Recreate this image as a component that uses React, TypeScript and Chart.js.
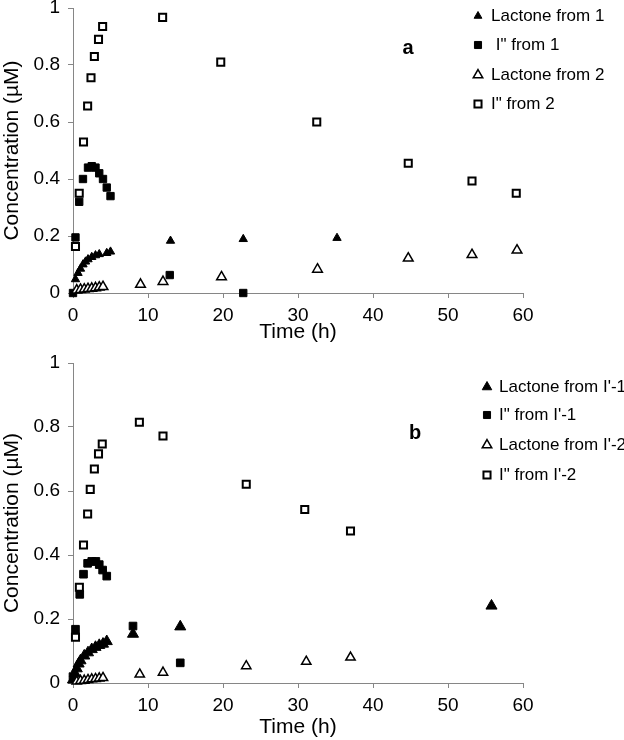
import React, { useEffect, useRef } from 'react';
import { Chart, registerables } from 'chart.js';
Chart.register(...registerables);

// ---------- Panel a data ----------
const aLactone1T = [0.33, 0.67, 1, 1.33, 1.67, 2, 2.5, 3, 3.5, 4.5, 5, 13, 22.7, 35.2];
const aLactone1C = [0.048, 0.07, 0.085, 0.1, 0.11, 0.118, 0.126, 0.132, 0.136, 0.14, 0.145, 0.183, 0.189, 0.193];
const aI1T = [0, 0.33, 0.83, 1.33, 2, 2.5, 3, 3.5, 4, 4.5, 5, 12.9, 22.7];
const aI1C = [0, 0.195, 0.32, 0.4, 0.44, 0.445, 0.44, 0.42, 0.4, 0.37, 0.34, 0.063, 0];
const aLactone2T = [0.5, 1, 1.5, 2, 2.5, 3, 3.5, 4, 9, 12, 19.8, 32.6, 44.7, 53.2, 59.2];
const aLactone2C = [0.01, 0.012, 0.013, 0.015, 0.016, 0.018, 0.02, 0.022, 0.03, 0.04, 0.056, 0.083, 0.122, 0.134, 0.15];
const aI2T = [0.33, 0.83, 1.4, 1.95, 2.4, 2.85, 3.4, 3.95, 11.95, 19.7, 32.5, 44.7, 53.2, 59.1];
const aI2C = [0.163, 0.35, 0.53, 0.656, 0.755, 0.83, 0.89, 0.935, 0.967, 0.81, 0.6, 0.455, 0.393, 0.35];
const aLabels = ['Lactone from 1', ' I" from 1', 'Lactone from 2', 'I" from 2'];

// ---------- Panel b data ----------
const bLactone1T = [0, 0.25, 0.5, 0.75, 1, 1.5, 2, 2.5, 3, 3.5, 4, 4.5, 8, 14.3, 55.8];
const bLactone1C = [0.01, 0.03, 0.045, 0.06, 0.07, 0.085, 0.095, 0.105, 0.112, 0.118, 0.122, 0.13, 0.153, 0.176, 0.241];
const bI1T = [0, 0.33, 0.9, 1.4, 1.95, 2.5, 3.05, 3.5, 3.95, 4.5, 8, 14.3];
const bI1C = [0.02, 0.168, 0.277, 0.34, 0.374, 0.38, 0.38, 0.37, 0.353, 0.334, 0.178, 0.063];
const bLactone2T = [0.5, 1, 1.5, 2, 2.5, 3, 3.5, 4, 8.9, 12, 23.1, 31.1, 37];
const bLactone2C = [0.005, 0.007, 0.008, 0.01, 0.012, 0.013, 0.015, 0.016, 0.027, 0.033, 0.053, 0.067, 0.08];
const bI2T = [0.33, 0.85, 1.4, 1.95, 2.3, 2.85, 3.4, 3.9, 8.85, 12, 23.1, 30.9, 37];
const bI2C = [0.143, 0.299, 0.431, 0.528, 0.605, 0.669, 0.716, 0.747, 0.815, 0.772, 0.621, 0.542, 0.475];
const bLabels = ["Lactone from I'-1", "I\" from I'-1", "Lactone from I'-2", "I\" from I'-2"];

const xTitle = 'Time (h)';
const yTitle = 'Concentration (\u00b5M)';

const FONT = '"Liberation Sans", Arial, sans-serif';
const AXIS = '#868686';
const W = 624;

type Marker = { kind: 'triangle' | 'rect'; filled: boolean; r: number; bw: number };

function pts(t: number[], c: number[]) {
  return t.map((x, i) => ({ x, y: c[i] }));
}

function drawMarker(ctx: CanvasRenderingContext2D, m: Marker, x: number, y: number) {
  ctx.save();
  ctx.beginPath();
  if (m.kind === 'triangle') {
    for (let k = 0; k < 3; k++) {
      const a = (k * 2 * Math.PI) / 3;
      const px = x + Math.sin(a) * m.r;
      const py = y - Math.cos(a) * m.r;
      if (k === 0) ctx.moveTo(px, py);
      else ctx.lineTo(px, py);
    }
    ctx.closePath();
  } else {
    const s = m.r * Math.SQRT1_2;
    ctx.rect(x - s, y - s, 2 * s, 2 * s);
  }
  ctx.fillStyle = m.filled ? '#000' : '#fff';
  ctx.fill();
  ctx.lineWidth = m.bw;
  ctx.strokeStyle = '#000';
  ctx.stroke();
  ctx.restore();
}

type PanelCfg = {
  height: number;
  plotTop: number;
  plotBottom: number;
  series: { t: number[]; c: number[]; m: Marker; order: number }[];
  labels: string[];
  legendMarkers: Marker[];
  legendX: number;
  legendTextX: number;
  legendY: number[];
  letter: string;
  letterX: number;
  letterY: number;
};

function Panel({ cfg, top }: { cfg: PanelCfg; top: number }) {
  const ref = useRef<HTMLCanvasElement>(null);
  useEffect(() => {
    const canvas = ref.current!;
    const overlay = {
      id: 'overlay',
      afterDraw(chart: any) {
        const ctx = chart.ctx as CanvasRenderingContext2D;
        ctx.save();
        cfg.labels.forEach((lab, i) => {
          drawMarker(ctx, cfg.legendMarkers[i], cfg.legendX, cfg.legendY[i]);
          ctx.fillStyle = '#000';
          ctx.font = `17px ${FONT}`;
          ctx.textAlign = 'left';
          ctx.textBaseline = 'middle';
          ctx.fillText(lab, cfg.legendTextX, cfg.legendY[i]);
        });
        ctx.font = `bold 20px ${FONT}`;
        ctx.textAlign = 'center';
        ctx.textBaseline = 'middle';
        ctx.fillText(cfg.letter, cfg.letterX, cfg.letterY);
        ctx.restore();
      },
    };
    const chart = new Chart(canvas, {
      type: 'scatter',
      data: {
        datasets: cfg.series.map((s, i) => ({
          label: cfg.labels[i],
          data: pts(s.t, s.c),
          pointStyle: s.m.kind,
          pointRadius: s.m.r,
          pointBorderWidth: s.m.bw,
          pointBackgroundColor: s.m.filled ? '#000' : '#fff',
          pointBorderColor: '#000',
          clip: false as any,
          order: s.order,
        })),
      },
      options: {
        responsive: false,
        animation: false,
        devicePixelRatio: 1,
        layout: { padding: { left: 0, right: W - 523, top: cfg.plotTop, bottom: 0 } },
        plugins: { legend: { display: false }, tooltip: { enabled: false } },
        scales: {
          x: {
            type: 'linear',
            min: 0,
            max: 60,
            ticks: { stepSize: 10, color: '#000', font: { family: FONT, size: 19 }, padding: 6, maxRotation: 0 },
            grid: { drawOnChartArea: false, drawTicks: true, tickLength: 5, color: AXIS },
            border: { display: true, color: AXIS, width: 1 },
            title: { display: true, text: xTitle, color: '#000', font: { family: FONT, size: 21 }, padding: 0 },
            afterFit: (s: any) => {
              s.height = cfg.height - cfg.plotBottom;
              s.paddingLeft = 0;
              s.paddingRight = 0;
            },
          },
          y: {
            type: 'linear',
            min: 0,
            max: 1,
            ticks: {
              stepSize: 0.2,
              color: '#000',
              font: { family: FONT, size: 19 },
              padding: 8,
              callback: (v: any) => String(Number(Number(v).toFixed(1))),
            },
            grid: { drawOnChartArea: false, drawTicks: true, tickLength: 5, color: AXIS },
            border: { display: true, color: AXIS, width: 1 },
            title: { display: true, text: yTitle, color: '#000', font: { family: FONT, size: 21 }, padding: 0 },
            afterFit: (s: any) => {
              s.width = 73;
              s.paddingTop = 0;
              s.paddingBottom = 0;
            },
          },
        },
      },
      plugins: [overlay],
    } as any);
    return () => chart.destroy();
  }, [cfg]);
  return (
    <canvas
      ref={ref}
      width={W}
      height={cfg.height}
      style={{ position: 'absolute', left: 0, top, width: W, height: cfg.height }}
    />
  );
}

const panelA: PanelCfg = {
  height: 345,
  plotTop: 8,
  plotBottom: 293,
  series: [
    { t: aLactone1T, c: aLactone1C, m: { kind: 'triangle', filled: true, r: 4.8, bw: 1 }, order: 3 },
    { t: aI1T, c: aI1C, m: { kind: 'rect', filled: true, r: 5.2, bw: 1 }, order: 2 },
    { t: aLactone2T, c: aLactone2C, m: { kind: 'triangle', filled: false, r: 5.6, bw: 1.5 }, order: 1 },
    { t: aI2T, c: aI2C, m: { kind: 'rect', filled: false, r: 5, bw: 2 }, order: 0 },
  ],
  labels: aLabels,
  legendMarkers: [
    { kind: 'triangle', filled: true, r: 4.5, bw: 1 },
    { kind: 'rect', filled: true, r: 5, bw: 1 },
    { kind: 'triangle', filled: false, r: 5.5, bw: 1.5 },
    { kind: 'rect', filled: false, r: 5, bw: 2 },
  ],
  legendX: 478,
  legendTextX: 491,
  legendY: [16, 45, 75, 104],
  letter: 'a',
  letterX: 408,
  letterY: 48,
};

const panelB: PanelCfg = {
  height: 395,
  plotTop: 18,
  plotBottom: 338,
  series: [
    { t: bLactone1T, c: bLactone1C, m: { kind: 'triangle', filled: true, r: 6.4, bw: 1 }, order: 3 },
    { t: bI1T, c: bI1C, m: { kind: 'rect', filled: true, r: 5.4, bw: 1 }, order: 2 },
    { t: bLactone2T, c: bLactone2C, m: { kind: 'triangle', filled: false, r: 5.4, bw: 1.5 }, order: 1 },
    { t: bI2T, c: bI2C, m: { kind: 'rect', filled: false, r: 5, bw: 2 }, order: 0 },
  ],
  labels: bLabels,
  legendMarkers: [
    { kind: 'triangle', filled: true, r: 5.5, bw: 1 },
    { kind: 'rect', filled: true, r: 5, bw: 1 },
    { kind: 'triangle', filled: false, r: 5.5, bw: 1.5 },
    { kind: 'rect', filled: false, r: 5, bw: 2 },
  ],
  legendX: 487,
  legendTextX: 499,
  legendY: [42, 70, 100, 130],
  letter: 'b',
  letterX: 415,
  letterY: 88,
};

export default function App() {
  return (
    <div style={{ position: 'absolute', left: 0, top: 0, width: W, height: 740, background: '#fff' }}>
      <Panel cfg={panelA} top={0} />
      <Panel cfg={panelB} top={345} />
    </div>
  );
}
